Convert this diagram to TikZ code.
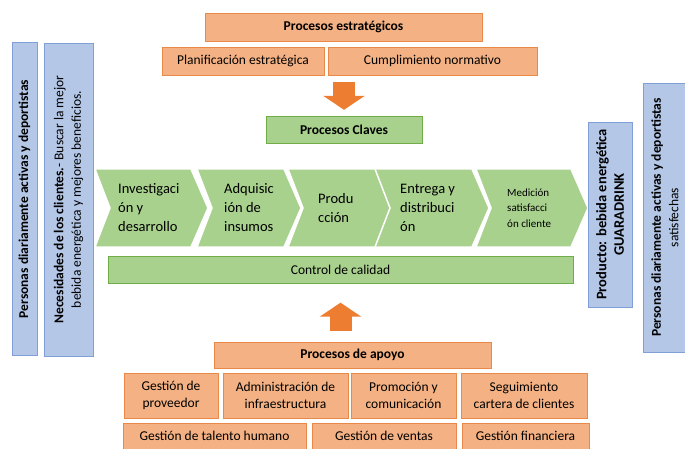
\documentclass[tikz,border=0pt]{standalone}
\usepackage{fontspec}
\setmainfont{Carlito}
\usepackage{xcolor}
\usetikzlibrary{arrows.meta,positioning}

\definecolor{orFill}{HTML}{F4B183}
\definecolor{orLine}{HTML}{E8894A}
\definecolor{orArrow}{HTML}{ED7D31}
\definecolor{grFill}{HTML}{A9D18E}
\definecolor{grLine}{HTML}{70AD47}
\definecolor{blFill}{HTML}{B4C7E7}
\definecolor{blLine}{HTML}{7F9FD6}

\begin{document}
\begin{tikzpicture}[
  x=1pt, y=-1pt,
  font=\fontsize{13.5}{16.5}\selectfont,
  proc/.style={draw=orLine, fill=orFill, inner sep=0pt, align=center, minimum height=28pt},
  key/.style={draw=grLine, fill=grFill, inner sep=0pt, align=center, minimum height=27pt},
  side/.style={draw=blLine, fill=blFill, inner sep=0pt, align=center, rotate=90},
  chev/.style={fill=grFill, draw=white, line width=1.5pt, line join=miter},
  chevtxt/.style={anchor=west, align=left, inner sep=0pt, font=\fontsize{14.5}{19}\selectfont},
  bigarrow/.style={draw=orArrow, line width=22pt, -{Triangle[width=41pt,length=14pt]}}
]
\useasboundingbox (0,0) rectangle (685,449);

% procesos estrategicos
\node[proc, minimum width=277pt] (estrat) at (343.5,27) {\textbf{Procesos estratégicos}};
\node[proc, minimum width=162pt] (plan) at (243,61) {Planificación estratégica};
\node[proc, minimum width=209pt] (cumpl) at (432.5,61) {Cumplimiento normativo};

% procesos claves
\node[key, minimum width=156pt] (claves) at (344,129.5) {\textbf{Procesos Claves}};

\foreach \xa/\xb/\dx/\nm/\txt in {95/208/23/inv/{Investigaci\\ón y\\desarrollo},
    197/301/27/adq/{Adquisic\\ión de\\insumos},
    288/394/30/prod/{Produ\\cción},
    375/489/25/entr/{Entrega y\\distribuci\\ón}}{
  \path[chev] (\xa,169) -- ({\xb-17},169) -- (\xb,208) -- ({\xb-17},247)
    -- (\xa,247) -- ({\xa+15},208) -- cycle;
  \node[chevtxt] (\nm) at ({\xa+\dx},208) {\txt};
}
\path[chev] (476,169) -- (571,169) -- (588,208) -- (571,247) -- (476,247) -- (491,208) -- cycle;
\node[chevtxt, font=\fontsize{11}{15.5}\selectfont] (medic) at (507,208) {Medición\\satisfacci\\ón cliente};

\node[key, minimum width=465pt] (calidad) at (340.5,270) {Control de calidad};

% procesos de apoyo
\node[proc, minimum width=277pt, minimum height=26pt] (apoyo) at (352.5,355) {\textbf{Procesos de apoyo}};
\node[proc, minimum width=94pt, minimum height=45pt] (prov) at (171,395.5) {Gestión de\\proveedor};
\node[proc, minimum width=125pt, minimum height=45pt] (infra) at (285.5,395.5) {Administración de\\infraestructura};
\node[proc, minimum width=105pt, minimum height=45pt] (promo) at (403.5,395.5) {Promoción y\\comunicación};
\node[proc, minimum width=126pt, minimum height=45pt] (segui) at (524,395.5) {Seguimiento\\cartera de clientes};
\node[proc, minimum width=183pt, minimum height=26pt] (talento) at (214.5,436) {Gestión de talento humano};
\node[proc, minimum width=144pt, minimum height=26pt] (ventas) at (384,436) {Gestión de ventas};
\node[proc, minimum width=127pt, minimum height=26pt] (finan) at (525.5,436) {Gestión financiera};

% clientes
\node[side, minimum width=313pt, minimum height=25pt] (personas) at (24.5,199)
  {\textbf{Personas diariamente activas y deportistas}};
\node[side, minimum width=313pt, minimum height=49pt, font=\fontsize{13.5}{17.5}\selectfont] (necesid) at (68.5,199.5)
  {\textbf{Necesidades de los clientes.}- Buscar la mejor\\bebida energética y mejores beneficios.};
\node[side, minimum width=185pt, minimum height=44pt, font=\fontsize{14.5}{17.5}\selectfont] (producto) at (610,214.5)
  {\textbf{Producto: bebida energética}\\\textbf{GUARADRINK}};
\node[side, minimum width=269pt, minimum height=44pt, font=\fontsize{13.5}{17.5}\selectfont] (satisf) at (665,217.5)
  {\textbf{Personas diariamente activas y deportistas}\\satisfechas};

% flechas
\draw[bigarrow, shorten <=7pt, shorten >=6pt] (plan.south -| claves.north) -- (claves.north);
\draw[bigarrow, shorten <=11pt, shorten >=19pt] (apoyo.north -| calidad.south) -- (calidad.south);
\end{tikzpicture}
\end{document}
